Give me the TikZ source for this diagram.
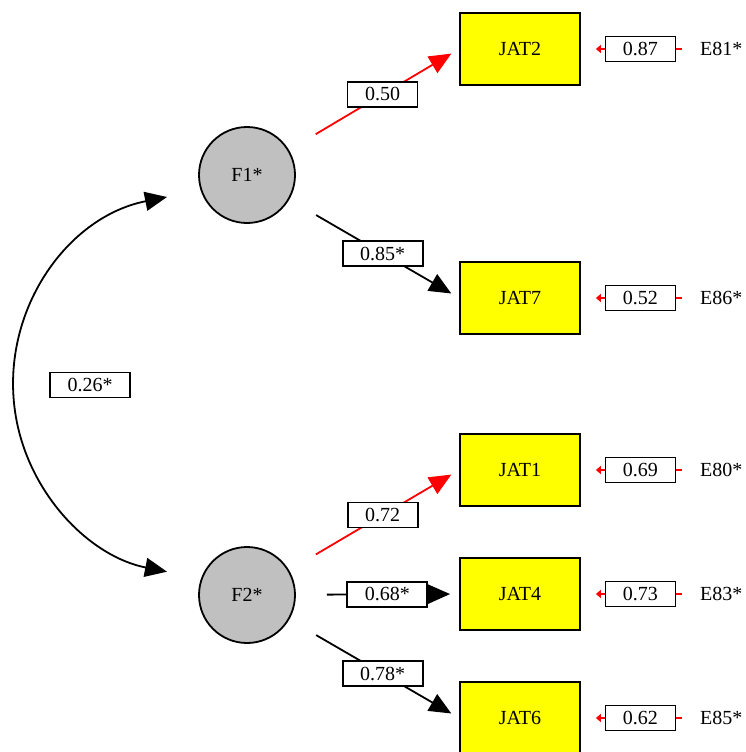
\documentclass[tikz,border=0pt]{standalone}
\usepackage{fontspec}
\setmainfont{Liberation Serif}
\usetikzlibrary{arrows.meta}

\definecolor{jatyellow}{RGB}{255,255,0}
\definecolor{pathred}{RGB}{255,0,0}
\definecolor{factorgray}{RGB}{192,192,192}

\tikzset{
  factor/.style={circle,draw,line width=1.8pt,fill=factorgray,minimum size=96pt,inner sep=0pt},
  indicator/.style={rectangle,draw,line width=1.8pt,fill=jatyellow,minimum width=120pt,minimum height=72pt},
  coef/.style={rectangle,draw=black,text=black,fill=white,line width=1.8pt,inner xsep=17.5pt,inner ysep=0pt,minimum height=25pt},
  loading/.style={line width=1.8pt,-{Triangle[length=22pt,width=19pt]},shorten <=31pt,shorten >=9pt},
  errpath/.style={pathred,line width=1.8pt,-{Triangle[length=5pt,width=8pt]},shorten >=15pt,shorten <=18pt},
}

\begin{document}
\begin{tikzpicture}[x=1pt,y=-1pt,font=\fontsize{20}{24}\selectfont]
\useasboundingbox (0,0) rectangle (745,752);

\node[factor] (f1) at (247,175) {F1*};
\node[factor] (f2) at (247,595) {F2*};

\node[indicator] (jat2) at (520,49) {JAT2};
\node[indicator] (jat7) at (520,298) {JAT7};
\node[indicator] (jat1) at (520,470) {JAT1};
\node[indicator] (jat4) at (520,594) {JAT4};
\node[indicator] (jat6) at (520,718) {JAT6};

\draw[loading,pathred] (f1) -- (jat2.west) node[coef,pos=0.55] {0.50};
\draw[loading] (f1) -- (jat7.west) node[coef,pos=0.55] {0.85*};
\draw[loading,pathred] (f2) -- (jat1.west) node[coef,pos=0.55] {0.72};
\draw[loading] (f2) -- (jat4.west) node[coef,pos=0.56] {0.68*};
\draw[loading] (f2) -- (jat6.west) node[coef,pos=0.55] {0.78*};

\foreach \jat/\err/\val in {jat2/E81*/0.87, jat7/E86*/0.52, jat1/E80*/0.69, jat4/E83*/0.73, jat6/E85*/0.62}{
  \node[anchor=west,inner sep=0pt] (e\jat) at ([xshift=119pt]\jat.east) {\err};
  \draw[errpath] (e\jat.west) -- (\jat.east) node[coef,pos=0.5] {\val};
}

\coordinate (cv1) at (167,197);
\coordinate (cv2) at (167,572);
\draw[line width=1.8pt,{Triangle[length=22pt,width=19pt]}-{Triangle[length=22pt,width=19pt]}]
  (cv1) arc[start angle=258.8,end angle=101.2,radius=191];
\node[coef] (cov) at (90,385) {0.26*};
\end{tikzpicture}
\end{document}
